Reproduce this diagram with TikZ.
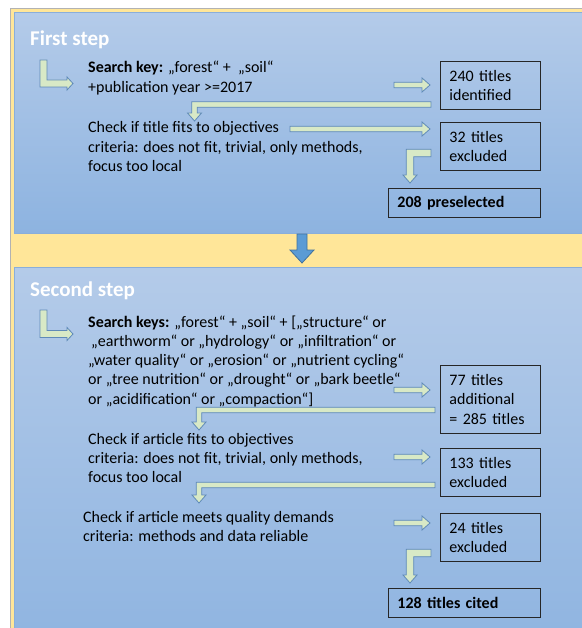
\documentclass[tikz,border=0pt]{standalone}
\usepackage{fontspec}
\setmainfont{Carlito}
\usetikzlibrary{calc}
\definecolor{bgyellow}{HTML}{FFE699}
\definecolor{paneltop}{HTML}{B4CBE9}
\definecolor{panelbottom}{HTML}{8DB3E0}
\definecolor{panelline}{HTML}{8AAEDA}
\definecolor{arrowfill}{HTML}{D8E9C6}
\definecolor{arrowline}{HTML}{5F8AB8}
\definecolor{bigfill}{HTML}{5B9BD5}
\definecolor{bigline}{HTML}{41719C}
\tikzset{
  panel/.style={draw=panelline, top color=paneltop, bottom color=panelbottom, anchor=north west, inner sep=0pt},
  steptitle/.style={anchor=base west, inner sep=0pt, text=white, font=\fontsize{21}{25}\selectfont\bfseries},
  txt/.style={anchor=base west, inner sep=0pt, align=left, font=\fontsize{16}{19.3}\selectfont},
  countbox/.style={draw=black!85, line width=0.9pt, anchor=north west, inner xsep=9pt, align=left,
    font=\fontsize{16}{19.3}\selectfont, minimum width=100pt, minimum height=48pt, text width=82pt},
  widebox/.style={countbox, minimum width=152pt, minimum height=29pt, text width=134pt},
  greenarr/.style={draw=arrowline, fill=arrowfill, line width=0.8pt},
  bluearr/.style={draw=bigline, fill=bigfill, line width=0.8pt}
}
\newcommand{\rightarr}[2]{%
  \draw[greenarr] let \p1=(#1), \p2=(#2) in
    (\x1,\y1+2.7pt) -- (\x2-8pt,\y1+2.7pt) -- (\x2-8pt,\y1+7pt) -- (\x2,\y1)
    -- (\x2-8pt,\y1-7pt) -- (\x2-8pt,\y1-2.7pt) -- (\x1,\y1-2.7pt) -- cycle;}
\newcommand{\leftdown}[3]{%
  \draw[greenarr] let \p1=(#2), \p2=(#3) in
    (\x1,\y1+#1) -- (\x2-#1,\y1+#1) -- (\x2-#1,\y2+8pt) -- (\x2-7pt,\y2+8pt) -- (\x2,\y2)
    -- (\x2+7pt,\y2+8pt) -- (\x2+#1,\y2+8pt) -- (\x2+#1,\y1-#1) -- (\x1,\y1-#1) -- cycle;}
\newcommand{\downright}[2]{%
  \draw[greenarr] let \p1=(#1), \p2=(#2) in
    (\x1-3.5pt,\y1) -- (\x1-3.5pt,\y2-3.5pt) -- (\x2-6pt,\y2-3.5pt) -- (\x2-6pt,\y2-6.5pt) -- (\x2,\y2)
    -- (\x2-6pt,\y2+6.5pt) -- (\x2-6pt,\y2+3.5pt) -- (\x1+3.5pt,\y2+3.5pt) -- (\x1+3.5pt,\y1) -- cycle;}
\newcommand{\bigdown}[2]{%
  \draw[bluearr] let \p1=(#1), \p2=(#2) in
    (\x1-5pt,\y1) -- (\x1-5pt,\y2+13pt) -- (\x1-12pt,\y2+13pt) -- (\x1,\y2)
    -- (\x1+12pt,\y2+13pt) -- (\x1+5pt,\y2+13pt) -- (\x1+5pt,\y1) -- cycle;}
\begin{document}
\begin{tikzpicture}[x=1pt,y=-1pt]
  \useasboundingbox (0,0) rectangle (581,628);
  \fill[white] (0,0) rectangle (581,628);
  \draw[fill=bgyellow, draw=black!30] (10,8) rectangle (620,660);
  \node[panel, minimum width=600pt, minimum height=221pt] (step1) at (14,12) {};
  \node[panel, minimum width=600pt, minimum height=400pt] (step2) at (14,267) {};

  \node[steptitle] (title1) at (30,46) {First step};
  \node[txt] (search1) at (88,92.3) {\textbf{Search key:} „forest“ +~ „soil“\\+publication year >=2017};
  \node[txt] (check1) at (88,171.6) {Check if title fits to objectives\\criteria: does not fit, trivial, only methods,\\focus too local};
  \node[countbox] (found1) at (440,61) {240 titles\\identified};
  \node[countbox] (out1) at (440,122) {32 titles\\excluded};
  \node[widebox] (kept1) at (388,188) {\textbf{208 preselected}};

  \node[steptitle] (title2) at (30,296) {Second step};
  \node[txt] (search2) at (88,404.2) {\textbf{Search keys:} „forest“ + „soil“ + [„structure“ or\\\hspace{3pt}„earthworm“ or „hydrology“ or „infiltration“ or\\„water quality“ or „erosion“ or „nutrient cycling“\\or „tree nutrition“ or „drought“ or „bark beetle“\\or „acidification“ or „compaction“]};
  \node[txt] (check2) at (88,482.6) {Check if article fits to objectives\\criteria: does not fit, trivial, only methods,\\focus too local};
  \node[txt] (check3) at (83,541.3) {Check if article meets quality demands\\criteria: methods and data reliable};
  \node[countbox, minimum height=68pt] (found2) at (440,365) {77 titles\\additional\\= 285 titles};
  \node[countbox] (out2) at (440,448) {133 titles\\excluded};
  \node[countbox] (out3) at (440,513) {24 titles\\excluded};
  \node[widebox] (kept2) at (388,588) {\textbf{128 titles cited}};

  \coordinate (l1a) at (43.5,60);   \coordinate (l1b) at (73,83.5);
  \coordinate (r1a) at (394,85);    \coordinate (r1b) at (430,85);
  \coordinate (b1a) at (431,104.5); \coordinate (b1b) at (194.5,121);
  \coordinate (r2a) at (290,129);   \coordinate (r2b) at (430,129);
  \coordinate (b2a) at (431,153);   \coordinate (b2b) at (410,183);
  \coordinate (d1a) at (302,234);   \coordinate (d1b) at (302,263);
  \coordinate (l2a) at (43.5,310);  \coordinate (l2b) at (73,334);
  \coordinate (r3a) at (394,390);   \coordinate (r3b) at (430,390);
  \coordinate (b3a) at (435,410);   \coordinate (b3b) at (199,430);
  \coordinate (r4a) at (394,457);   \coordinate (r4b) at (430,457);
  \coordinate (b4a) at (435,485);   \coordinate (b4b) at (199,503);
  \coordinate (r5a) at (394,523);   \coordinate (r5b) at (430,523);
  \coordinate (b5a) at (431,553);   \coordinate (b5b) at (410,583);

  \downright{l1a}{l1b}
  \rightarr{r1a}{r1b}
  \leftdown{2.7pt}{b1a}{b1b}
  \rightarr{r2a}{r2b}
  \leftdown{3.7pt}{b2a}{b2b}
  \bigdown{d1a}{d1b}
  \downright{l2a}{l2b}
  \rightarr{r3a}{r3b}
  \leftdown{2.7pt}{b3a}{b3b}
  \rightarr{r4a}{r4b}
  \leftdown{2.7pt}{b4a}{b4b}
  \rightarr{r5a}{r5b}
  \leftdown{3.7pt}{b5a}{b5b}
\end{tikzpicture}
\end{document}
